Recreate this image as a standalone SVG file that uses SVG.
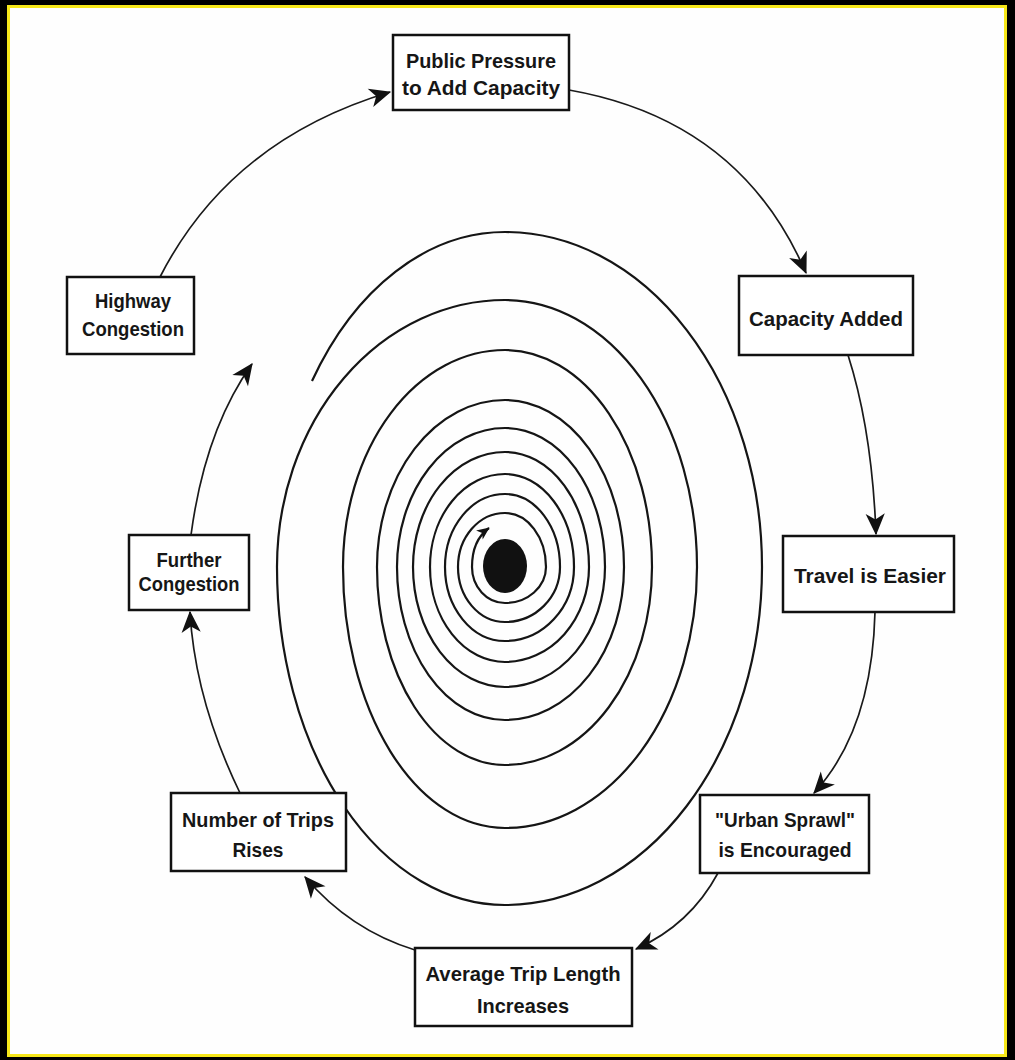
<svg xmlns="http://www.w3.org/2000/svg" width="1015" height="1060" viewBox="0 0 1015 1060">
<style>
.box{fill:#fff;stroke:#111;stroke-width:2.5}
.lbl{font-family:"Liberation Sans",Arial,sans-serif;font-weight:bold;font-size:21px;fill:#161616;text-anchor:middle}
.conn{fill:none;stroke:#1a1a1a;stroke-width:1.7}
.spiral{fill:none;stroke:#151515;stroke-width:2.2}
</style>
<defs>
<marker id="arr" viewBox="0 0 20 18" refX="18" refY="9" markerWidth="24" markerHeight="22" markerUnits="userSpaceOnUse" orient="auto">
<path d="M1,1 L19,9 L1,17 L6,9 z" fill="#111"/>
</marker>
<marker id="arrs" viewBox="0 0 20 18" refX="18" refY="9" markerWidth="14" markerHeight="13" markerUnits="userSpaceOnUse" orient="auto">
<path d="M1,1 L19,9 L1,17 L6,9 z" fill="#111"/>
</marker>
</defs>
<rect x="0" y="0" width="1015" height="1060" fill="#000"/>
<rect x="8.5" y="6.5" width="997" height="1049" fill="#fefefe" stroke="#f7e81a" stroke-width="3"/>

<g id="connectors">
<path class="conn" d="M160 277 Q230 140 390 92" marker-end="url(#arr)"/>
<path class="conn" d="M569 90 Q740 120 806 273" marker-end="url(#arr)"/>
<path class="conn" d="M848 355 Q872 430 876 534" marker-end="url(#arr)"/>
<path class="conn" d="M875 612 Q872 730 814 793" marker-end="url(#arr)"/>
<path class="conn" d="M718 873 Q690 925 636 949" marker-end="url(#arr)"/>
<path class="conn" d="M415 950 Q350 930 305 877" marker-end="url(#arr)"/>
<path class="conn" d="M240 793 Q195 700 190 612" marker-end="url(#arr)"/>
<path class="conn" d="M191 535 Q205 430 252 364" marker-end="url(#arr)"/>
</g>

<g id="spiral">
<path class="spiral" marker-end="url(#arrs)" d="M312 381 A232 335 0 0 1 505 232
A257 335 0 0 1 762 567 A257 338 0 0 1 505 905 A228 338 0 0 1 277 567 A228 267 0 0 1 505 300
A192 267 0 0 1 697 567 A192 261 0 0 1 505 828 A162 261 0 0 1 343 567 A162 217 0 0 1 505 350
A147 217 0 0 1 652 567 A147 198 0 0 1 505 765 A128 198 0 0 1 377 567 A128 167 0 0 1 505 400
A119 167 0 0 1 624 567 A119 153 0 0 1 505 720 A108 153 0 0 1 397 567 A108 139 0 0 1 505 428
A100 139 0 0 1 605 567 A100 120 0 0 1 505 687 A92 120 0 0 1 413 567 A92 115 0 0 1 505 452
A84 115 0 0 1 589 567 A84 95 0 0 1 505 662 A75 95 0 0 1 430 567 A75 93 0 0 1 505 474
A69 93 0 0 1 574 567 A69 74 0 0 1 505 641 A60 74 0 0 1 445 567 A60 73 0 0 1 505 494
A55 73 0 0 1 560 567 A55 55 0 0 1 505 622 A47 55 0 0 1 458 567 A47 54 0 0 1 505 513
A41 54 0 0 1 546 567 A41 36 0 0 1 505 603 A33 36 0 0 1 472 567 C472 548 478 536 489 528"/>
<ellipse cx="505" cy="566" rx="22" ry="27" fill="#111"/>
</g>

<g id="public-pressure">
<rect class="box" x="393" y="35" width="176" height="75"/>
<text class="lbl" x="481" y="68" textLength="150" lengthAdjust="spacingAndGlyphs">Public Pressure</text>
<text class="lbl" x="481" y="95" textLength="158" lengthAdjust="spacingAndGlyphs">to Add Capacity</text>
</g>
<g id="capacity-added">
<rect class="box" x="739" y="276" width="174" height="79"/>
<text class="lbl" x="826" y="326" textLength="154" lengthAdjust="spacingAndGlyphs">Capacity Added</text>
</g>
<g id="travel-easier">
<rect class="box" x="783" y="536" width="171" height="76"/>
<text class="lbl" x="870" y="583" textLength="152" lengthAdjust="spacingAndGlyphs">Travel is Easier</text>
</g>
<g id="urban-sprawl">
<rect class="box" x="700" y="795" width="169" height="78"/>
<text class="lbl" x="785" y="827" textLength="140" lengthAdjust="spacingAndGlyphs">"Urban Sprawl"</text>
<text class="lbl" x="785" y="857" textLength="133" lengthAdjust="spacingAndGlyphs">is Encouraged</text>
</g>
<g id="average-trip-length">
<rect class="box" x="415" y="948" width="217" height="78"/>
<text class="lbl" x="523" y="981" textLength="195" lengthAdjust="spacingAndGlyphs">Average Trip Length</text>
<text class="lbl" x="523" y="1013" textLength="92" lengthAdjust="spacingAndGlyphs">Increases</text>
</g>
<g id="number-of-trips">
<rect class="box" x="171" y="793" width="175" height="78"/>
<text class="lbl" x="258" y="827" textLength="152" lengthAdjust="spacingAndGlyphs">Number of Trips</text>
<text class="lbl" x="258" y="857" textLength="51" lengthAdjust="spacingAndGlyphs">Rises</text>
</g>
<g id="further-congestion">
<rect class="box" x="129" y="535" width="120" height="75"/>
<text class="lbl" x="189" y="567" textLength="65" lengthAdjust="spacingAndGlyphs">Further</text>
<text class="lbl" x="189" y="591" textLength="101" lengthAdjust="spacingAndGlyphs">Congestion</text>
</g>
<g id="highway-congestion">
<rect class="box" x="67" y="277" width="127" height="77"/>
<text class="lbl" x="133" y="308" textLength="76" lengthAdjust="spacingAndGlyphs">Highway</text>
<text class="lbl" x="133" y="336" textLength="102" lengthAdjust="spacingAndGlyphs">Congestion</text>
</g>
</svg>
